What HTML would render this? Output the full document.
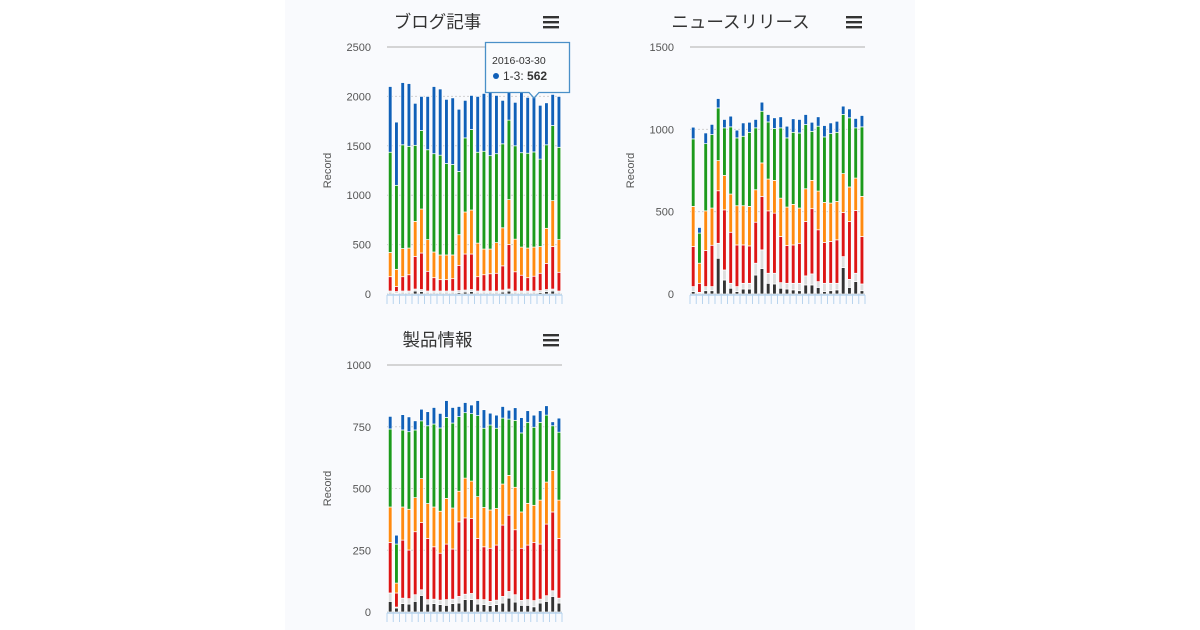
<!DOCTYPE html>
<html><head><meta charset="utf-8"><style>
body{margin:0;width:1200px;height:630px;background:#fff;overflow:hidden;font-family:"Liberation Sans","Noto Sans CJK JP",sans-serif}
#panel{position:absolute;left:285px;top:0;width:630px;height:630px;background:#f9fafd}
svg{position:absolute;left:0;top:0}
</style></head><body>
<div id="panel"></div>
<svg id="s" width="1200" height="630"></svg>
<script>
const seriesNames=["black","grey","red","orange","green","1-3"];
const seriesColors=["#333333","#dddddd","#dd1515","#ff8a10","#1c9a1c","#1060b8"];
// chart 1: ブログ記事
const c1Black=[10,5,10,10,30,25,10,10,10,10,10,15,20,25,10,10,10,10,20,30,10,10,10,10,15,25,30,10];
const c1Grey=[20,20,20,20,20,20,20,20,20,20,20,20,20,20,20,20,20,20,20,20,20,20,20,20,20,20,20,20];
const c1Red=[145,50,145,165,330,370,200,135,115,115,125,255,365,360,145,165,175,180,245,450,195,160,135,150,175,265,430,190];
const c1Orange=[245,175,285,270,355,445,320,260,250,250,240,310,425,445,340,260,250,310,385,455,330,285,300,295,270,355,465,330];
const c1Green=[1015,850,1050,1030,770,795,910,995,1010,925,915,640,750,815,920,990,945,900,850,805,945,955,960,963,885,845,760,935];
const c1Blue=[665,640,630,635,425,345,540,680,670,650,675,630,380,345,565,585,650,590,440,340,440,620,565,562,545,425,315,515];
const c1Ticks=[0,500,1000,1500,2000,2500];
// chart 2: ニュースリリース
const c2Black=[15,5,20,20,217,85,35,15,30,30,115,155,65,61,35,30,25,20,55,55,40,15,20,25,160,40,75,20];
const c2Grey=[30,5,25,25,91,61,30,30,35,35,72,113,61,65,34,35,40,45,55,67,35,50,45,40,67,49,51,41];
const c2Red=[243,55,219,251,319,365,310,253,233,227,249,325,379,365,280,229,233,243,330,396,315,248,254,264,268,351,381,288];
const c2Orange=[244,122,241,226,183,209,232,238,238,240,197,203,193,199,233,234,246,214,199,172,235,243,233,233,236,210,197,244];
const c2Green=[410,183,408,446,320,289,408,412,422,450,376,314,347,315,427,420,438,456,390,298,394,398,422,420,359,420,305,422];
const c2Blue=[71,34,65,62,57,51,65,47,81,61,51,55,45,65,67,71,82,82,61,55,57,69,65,67,51,54,57,69];
const c2Ticks=[0,500,1000,1500];
// chart 3: 製品情報
const c3Black=[43,16,34,32,43,67,32,34,30,27,34,36,50,50,32,30,26,30,36,56,40,27,27,21,36,43,63,36];
const c3Grey=[34,4,22,22,27,23,18,18,18,23,18,27,22,25,18,20,17,18,27,27,30,20,23,25,16,23,23,20];
const c3Red=[205,57,235,197,255,272,248,212,190,225,203,302,309,303,248,214,215,223,289,309,263,211,221,236,223,290,319,242];
const c3Orange=[143,40,134,165,138,178,141,161,170,185,166,124,161,152,169,159,155,148,166,161,172,147,169,150,178,170,168,155];
const c3Green=[316,158,312,314,274,234,315,336,337,328,344,302,265,273,328,321,344,325,267,228,271,320,328,316,315,271,181,275];
const c3Blue=[51,36,62,60,37,47,57,67,59,68,63,41,41,35,61,75,48,53,47,36,51,62,47,49,47,38,16,57];
const c3Ticks=[0,250,500,750,1000];

const NS="http://www.w3.org/2000/svg";
const svg=document.getElementById('s');
function mk(tag,attrs,parent){const e=document.createElementNS(NS,tag);for(const k in attrs)e.setAttribute(k,attrs[k]);(parent||svg).appendChild(e);return e;}

function chart(id,title,series,ticks,x0,x1,yTop,y0){
  const g=mk('g',{});
  
  
  const max=ticks[ticks.length-1];
  const yS=v=>y0-(v/max)*(y0-yTop);
  const n=series[0].length, band=(x1-x0)/n;
  const xS=i=>x0+band*i;
  const t=mk('text',{x:(x0+x1)/2-37,y:yTop-19,'font-size':17.5,fill:'#333','text-anchor':'middle'},g);
  t.textContent=title;
  
  
  const menu=mk('g',{},g);
  
  
  for(let k=0;k<3;k++)mk('rect',{x:x1-19,y:yTop-31+k*5,width:16,height:2.4,fill:'#333'},menu);
  ticks.forEach((v,k)=>{
    const y=yS(v);
    const gl=mk('line',{x1:x0,x2:x1,y1:y,y2:y,stroke:k==ticks.length-1?'#c8c8c8':'#d0d0d0','stroke-width':k==ticks.length-1?1.5:1,'stroke-dasharray':k==ticks.length-1||k==0?'':'2,2'},g);
    
    
    const tl=mk('text',{x:x0-16,y:y+4,'font-size':11,fill:'#555','text-anchor':'end'},g);
    tl.textContent=v;
    
    
  });
  const yt=mk('text',{x:0,y:0,'font-size':11,fill:'#555','text-anchor':'middle',transform:`translate(${x0-56},${(yTop+y0)/2}) rotate(-90)`},g);
  yt.textContent='Record';
  
  
  for(let i=0;i<n;i++){
    let acc=0;
    series.forEach((s,si)=>{
      const top=yS(acc+s[i]),bot=yS(acc);
      const r=mk('rect',{x:xS(i)+1.4,y:top,width:3.6,height:Math.max(0,bot-top),fill:seriesColors[si],stroke:'#fff','stroke-width':0.7},g);
      
      
      acc+=s[i];
    });
  }
  const ax=mk('line',{x1:x0,x2:x1,y1:y0+1,y2:y0+1,stroke:'#b8d4ee','stroke-width':1.5},g);
  
  
  for(let i=0;i<=n;i++){
    const tk=mk('line',{x1:xS(i),x2:xS(i),y1:y0+1,y2:y0+10,stroke:'#b8d4ee','stroke-width':1},g);
    
    
  }
  return {xS,yS,band};
}
const c1=chart('chart-blog','ブログ記事',[c1Black,c1Grey,c1Red,c1Orange,c1Green,c1Blue],c1Ticks,387,562,47,294);
chart('chart-news','ニュースリリース',[c2Black,c2Grey,c2Red,c2Orange,c2Green,c2Blue],c2Ticks,690,865,47,294);
chart('chart-product','製品情報',[c3Black,c3Grey,c3Red,c3Orange,c3Green,c3Blue],c3Ticks,387,562,365,612);

// tooltip
const tt=mk('g',{});


mk('path',{d:'M485.5,42.5 H569.5 V92.5 H539 L534,98 L529,92.5 H485.5 Z',fill:'#f9fbfd',stroke:'#4a90c8','stroke-width':1.3},tt);
const d1=mk('text',{x:492,y:64,'font-size':10.5,fill:'#333'},tt);d1.textContent='2016-03-30';
mk('circle',{cx:496,cy:76,r:3,fill:'#1060b8'},tt);
const d2=mk('text',{x:503,y:80,'font-size':12,fill:'#333'},tt);
d2.innerHTML='1-3: <tspan font-weight="bold">562</tspan>';
</script>
</body></html>
